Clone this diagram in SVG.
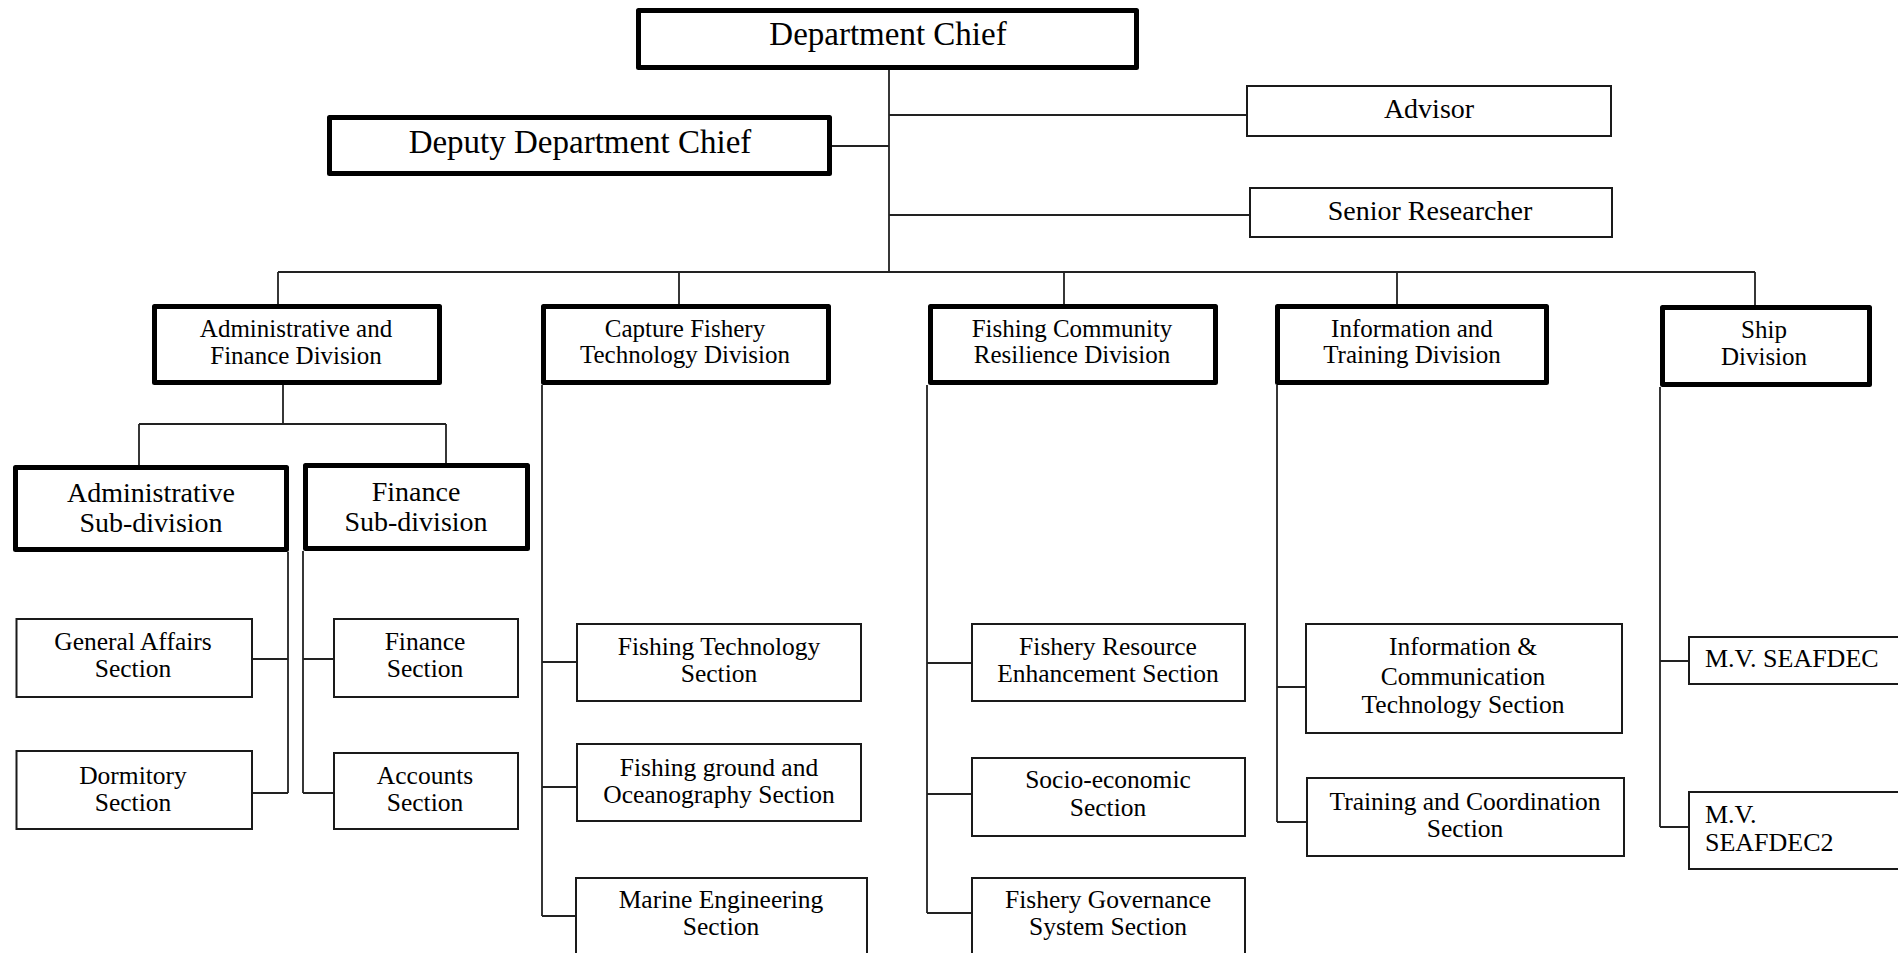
<svg xmlns="http://www.w3.org/2000/svg" width="1898" height="953" viewBox="0 0 1898 953">
<style>
  .thick{fill:#fff;stroke:#000;stroke-width:5;stroke-linejoin:round}
  .thin{fill:#fff;stroke:#1a1a1a;stroke-width:2}
  .ln{stroke:#222;stroke-width:1.8;fill:none}
  text{font-family:"Liberation Serif","Times New Roman",serif;fill:#000;text-anchor:middle}
  .t33{font-size:33px}
  .t28{font-size:28px}
  .t25{font-size:25px}
  .t24{font-size:25.5px}
  .mv{font-size:26px}
  .left{text-anchor:start}
</style>
<rect width="1898" height="953" fill="#fff"/>
<g id="connectors">
  <path class="ln" d="M889 70V272M889 115H1246M832 146H889M889 215H1249M278 272H1755"/>
  <path class="ln" d="M278 272V304M679 272V304M1064 272V304M1397 272V304M1755 272V305"/>
  <path class="ln" d="M283 385V424M139 424H446M139 424V465M446 424V463"/>
  <path class="ln" d="M288 552V793M253 659H288M253 793H288"/>
  <path class="ln" d="M303 551V793M303 659H333M303 793H333"/>
  <path class="ln" d="M542 385V916M542 662H576M542 787H576M542 916H575"/>
  <path class="ln" d="M927 385V913M927 663H971M927 794H971M927 913H971"/>
  <path class="ln" d="M1277 385V822M1277 687H1305M1277 822H1306"/>
  <path class="ln" d="M1660 387V827M1660 661H1688M1660 827H1688"/>
</g>
<g id="dept-chief"><rect class="thick" x="638.5" y="10.5" width="498" height="57"/><text class="t33" x="888" y="45">Department Chief</text></g>
<g id="deputy"><rect class="thick" x="329.5" y="117.5" width="500" height="56"/><text class="t33" x="580" y="153">Deputy Department Chief</text></g>
<g id="advisor"><rect class="thin" x="1247" y="86" width="364" height="50"/><text class="t28" x="1429" y="118">Advisor</text></g>
<g id="senior"><rect class="thin" x="1250" y="188" width="362" height="49"/><text class="t28" x="1430" y="220">Senior Researcher</text></g>
<g id="afd"><rect class="thick" x="154.5" y="306.5" width="285" height="76"/><text class="t25" x="296" y="337">Administrative and</text><text class="t25" x="296" y="364">Finance Division</text></g>
<g id="cftd"><rect class="thick" x="543.5" y="306.5" width="285" height="76"/><text class="t25" x="685" y="337">Capture Fishery</text><text class="t25" x="685" y="363">Technology Division</text></g>
<g id="fcrd"><rect class="thick" x="930.5" y="306.5" width="285" height="76"/><text class="t25" x="1072" y="337">Fishing Community</text><text class="t25" x="1072" y="363">Resilience Division</text></g>
<g id="itd"><rect class="thick" x="1277.5" y="306.5" width="269" height="76"/><text class="t25" x="1412" y="337">Information and</text><text class="t25" x="1412" y="363">Training Division</text></g>
<g id="ship"><rect class="thick" x="1662.5" y="307.5" width="207" height="77"/><text class="t25" x="1764" y="338">Ship</text><text class="t25" x="1764" y="365">Division</text></g>
<g id="admin-sub"><rect class="thick" x="15.5" y="467.5" width="271" height="82"/><text class="t28" x="151" y="502">Administrative</text><text class="t28" x="151" y="532">Sub-division</text></g>
<g id="fin-sub"><rect class="thick" x="305.5" y="465.5" width="222" height="83"/><text class="t28" x="416" y="501">Finance</text><text class="t28" x="416" y="531">Sub-division</text></g>
<g id="general-affairs"><rect class="thin" x="16.5" y="619" width="235.5" height="78"/><text class="t24" x="133" y="650">General Affairs</text><text class="t24" x="133" y="677">Section</text></g>
<g id="dormitory"><rect class="thin" x="16.5" y="751" width="235.5" height="78"/><text class="t24" x="133" y="784">Dormitory</text><text class="t24" x="133" y="811">Section</text></g>
<g id="finance-section"><rect class="thin" x="334" y="619" width="184" height="78"/><text class="t24" x="425" y="650">Finance</text><text class="t24" x="425" y="677">Section</text></g>
<g id="accounts"><rect class="thin" x="334" y="753" width="184" height="76"/><text class="t24" x="425" y="784">Accounts</text><text class="t24" x="425" y="811">Section</text></g>
<g id="fishing-tech"><rect class="thin" x="577" y="624" width="284" height="77"/><text class="t24" x="719" y="655">Fishing Technology</text><text class="t24" x="719" y="682">Section</text></g>
<g id="fishing-ground"><rect class="thin" x="577" y="744" width="284" height="77"/><text class="t24" x="719" y="776">Fishing ground and</text><text class="t24" x="719" y="803">Oceanography Section</text></g>
<g id="marine"><rect class="thin" x="576" y="878" width="291" height="100"/><text class="t24" x="721" y="908">Marine Engineering</text><text class="t24" x="721" y="935">Section</text></g>
<g id="fre"><rect class="thin" x="972" y="624" width="273" height="77"/><text class="t24" x="1108" y="655">Fishery Resource</text><text class="t24" x="1108" y="682">Enhancement Section</text></g>
<g id="socio"><rect class="thin" x="972" y="758" width="273" height="78"/><text class="t24" x="1108" y="788">Socio-economic</text><text class="t24" x="1108" y="816">Section</text></g>
<g id="fgs"><rect class="thin" x="972" y="878" width="273" height="100"/><text class="t24" x="1108" y="908">Fishery Governance</text><text class="t24" x="1108" y="935">System Section</text></g>
<g id="ict"><rect class="thin" x="1306" y="624" width="316" height="109"/><text class="t24" x="1463" y="655">Information &amp;</text><text class="t24" x="1463" y="685">Communication</text><text class="t24" x="1463" y="713">Technology Section</text></g>
<g id="training"><rect class="thin" x="1307" y="778" width="317" height="78"/><text class="t24" x="1465" y="810">Training and Coordination</text><text class="t24" x="1465" y="837">Section</text></g>
<g id="mv1"><rect class="thin" x="1689" y="637" width="250" height="47"/><text class="mv left" x="1705" y="667">M.V. SEAFDEC</text></g>
<g id="mv2"><rect class="thin" x="1689" y="792" width="250" height="77"/><text class="mv left" x="1705" y="823">M.V.</text><text class="mv left" x="1705" y="851">SEAFDEC2</text></g>
</svg>
